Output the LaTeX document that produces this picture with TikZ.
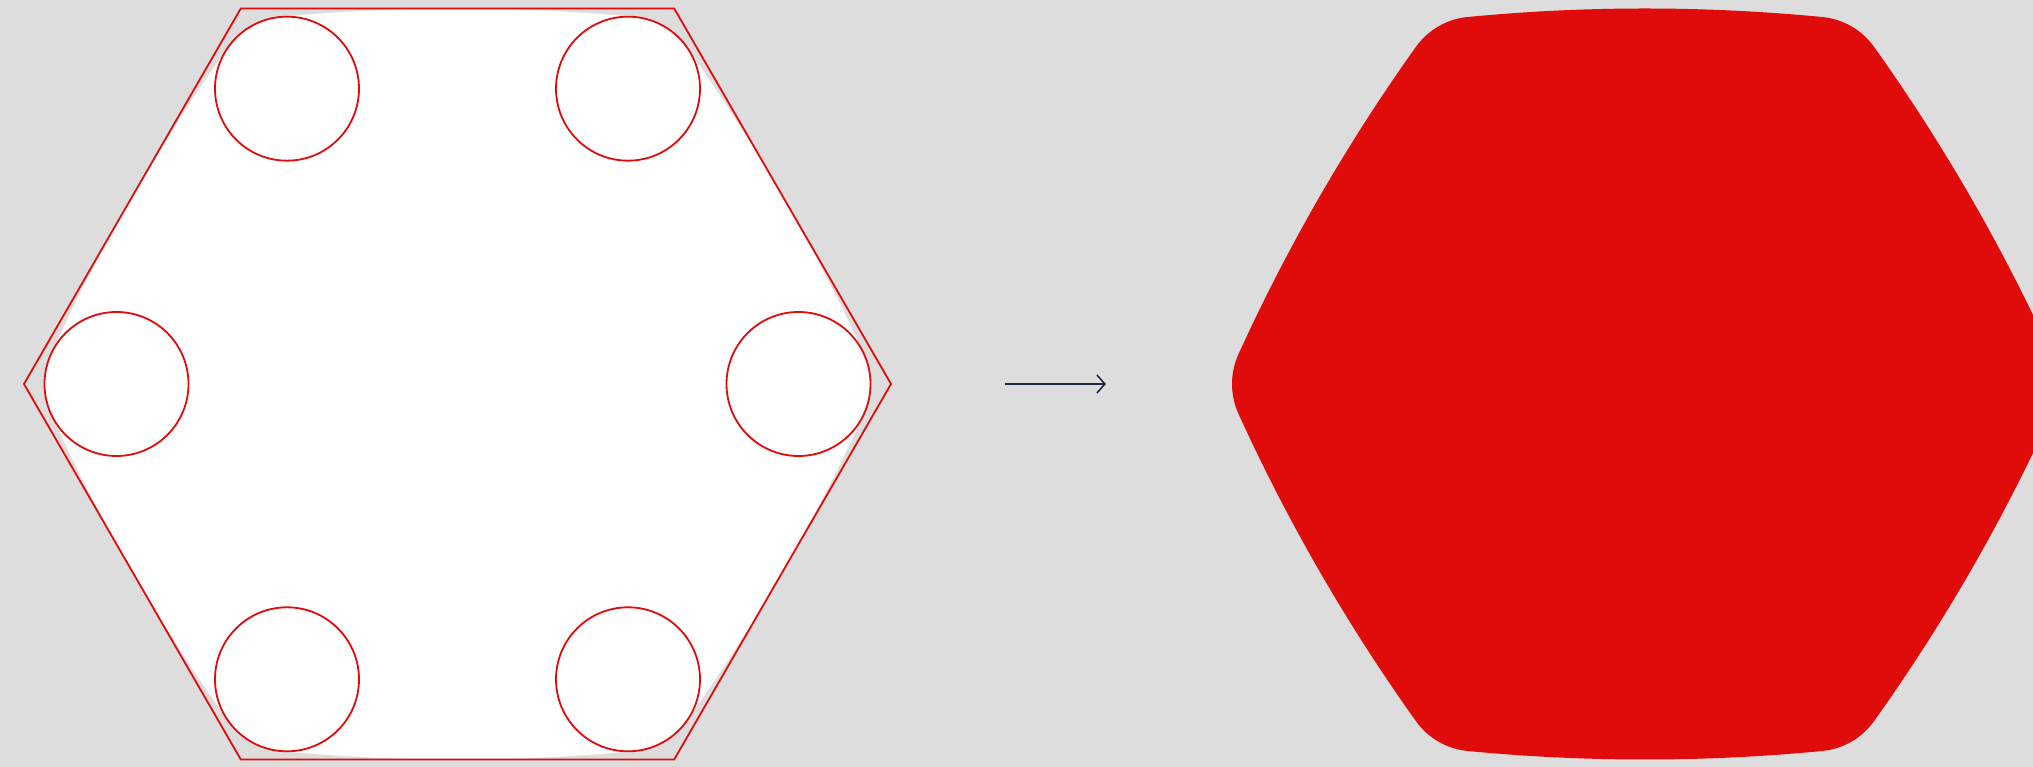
\documentclass[tikz,border=0pt]{standalone}
\usetikzlibrary{arrows.meta,calc}
\definecolor{bg}{HTML}{DDDDDD}
\definecolor{hexred}{HTML}{E00B0B}
\definecolor{navy}{HTML}{1F2A48}
% rounded, slightly bulging hexagon: corner arcs on the corner circles, sides on large arcs
\newcommand{\roundhexpath}[1]{%
  ($(#1)+(240:341pt)+(264.493:72pt)$)
  \foreach \p in {-90,-30,30,90,150,210} {
    arc[start angle=\p-5.507, end angle=\p+5.507, radius=1848.7pt]
    arc[start angle=\p+5.507, end angle=\p+54.493, radius=72pt]
  } -- cycle
}
\tikzset{
  cornercircle/.style={circle, draw=hexred, fill=white, line width=1.8pt,
    minimum size=144pt, inner sep=0pt},
  hexoutline/.style={draw=hexred, line width=1.8pt, line join=miter},
  flowarrow/.style={draw=navy, line width=1.6pt, -{Straight Barb[length=8pt,width=18pt,line width=1.6pt]}}
}
\begin{document}
\begin{tikzpicture}
\useasboundingbox (0,0) rectangle (2033pt,767pt);
\fill[bg] (0,0) rectangle (2033pt,767pt);
\coordinate (L) at (457.5pt,383pt);
\coordinate (R) at (1645pt,383pt);
% left: white rounded shape, hexagon outline, corner circles
\fill[white] \roundhexpath{L};
\path[hexoutline] ($(L)+(0:433.5pt)$) -- ($(L)+(60:433.5pt)$) -- ($(L)+(120:433.5pt)$)
  -- ($(L)+(180:433.5pt)$) -- ($(L)+(240:433.5pt)$) -- ($(L)+(300:433.5pt)$) -- cycle;
\foreach \a [count=\i] in {0,60,120,180,240,300}
  \node[cornercircle] (c\i) at ($(L)+(\a:341pt)$) {};
% right: filled rounded shape
\fill[hexred] \roundhexpath{R};
% arrow
\coordinate (a1) at (1005pt,383pt);
\coordinate (a2) at (1106pt,383pt);
\draw[flowarrow] (a1) -- (a2);
\end{tikzpicture}
\end{document}
